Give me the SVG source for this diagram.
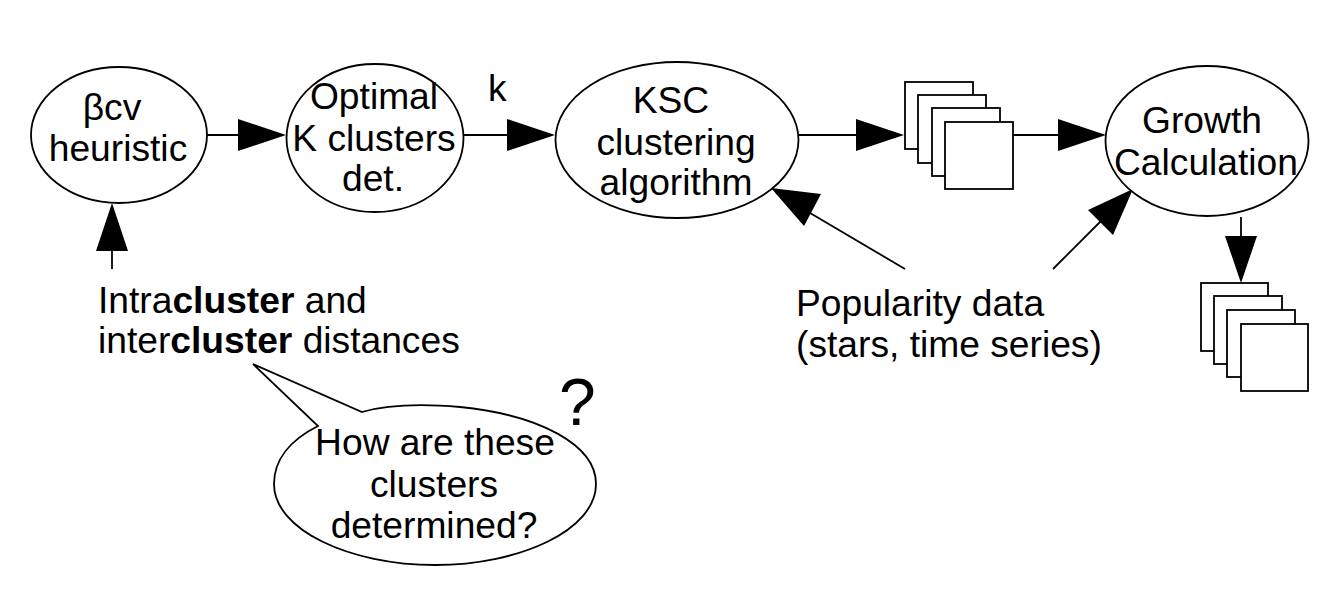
<svg xmlns="http://www.w3.org/2000/svg" width="1342" height="598" viewBox="0 0 1342 598">
<style>
.s{fill:#fff;stroke:#000;stroke-width:1.8}
.l{fill:none;stroke:#000;stroke-width:1.8}
.h{fill:#000;stroke:none}
text{font-family:"Liberation Sans",Arial,sans-serif;font-size:37.2px;fill:#000}
.m{text-anchor:middle}
</style>
<rect width="1342" height="598" fill="#fff"/>
<g id="connectors">
<path class="l" d="M207 135H240M464 135H510M799 135H858M1013 135H1060M112 269V245M1241 217V238M905 269L805 210M1053 269L1110 212"/>
<path class="h" d="M286 135L238 119V151Z"/>
<path class="h" d="M555 135L507 119V151Z"/>
<path class="h" d="M904 135L856 119V151Z"/>
<path class="h" d="M1106 135L1058 119V151Z"/>
<path class="h" d="M112 203L96 251H128Z"/>
<path class="h" d="M1241 283L1225 236H1257Z"/>
<path class="h" d="M771 188L821 194L804 226Z"/>
<path class="h" d="M1133 189L1113 235L1088 210Z"/>
</g>
<g id="beta"><ellipse class="s" cx="119" cy="135" rx="88" ry="68"/><text class="m" x="112" y="120">βcv</text><text class="m" x="118" y="161">heuristic</text></g>
<g id="optimal"><ellipse class="s" cx="375" cy="138" rx="88.500" ry="74"/><text class="m" x="374" y="109">Optimal</text><text class="m" x="374" y="151">K clusters</text><text class="m" x="373" y="191">det.</text></g>
<text x="488" y="101">k</text>
<g id="ksc"><ellipse class="s" cx="677" cy="140" rx="121.500" ry="78"/><text class="m" x="671" y="113">KSC</text><text class="m" x="676" y="155">clustering</text><text class="m" x="676" y="195">algorithm</text></g>
<g id="stack1"><rect class="s" x="905" y="82" width="68" height="67"/><rect class="s" x="918" y="95" width="68" height="68"/><rect class="s" x="932" y="108" width="68" height="68"/><rect class="s" x="945" y="122" width="68" height="67"/></g>
<g id="growth"><ellipse class="s" cx="1207" cy="141" rx="101.500" ry="75"/><text class="m" x="1202" y="133">Growth</text><text class="m" x="1206" y="175">Calculation</text></g>
<g id="stack2"><rect class="s" x="1201" y="283" width="67" height="68"/><rect class="s" x="1214" y="296" width="68" height="68"/><rect class="s" x="1227" y="310" width="68" height="67"/><rect class="s" x="1241" y="324" width="67" height="67"/></g>
<g id="distances"><text x="98" y="313">Intra<tspan font-weight="bold">cluster</tspan> and</text><text x="98" y="353">inter<tspan font-weight="bold">cluster</tspan> distances</text></g>
<g id="popularity"><text x="796" y="316">Popularity data</text><text x="796" y="357">(stars, time series)</text></g>
<g id="callout"><path class="s" d="M253 364L362 412C390 404 425 404 460 407C540 415 596 445 596 484C596 530 520 565 435 565C350 565 274 530 274 484C274 460 290 440 318 426Z"/><text class="m" x="435" y="455">How are these</text><text class="m" x="434" y="497">clusters</text><text class="m" x="434" y="538">determined?</text></g>
<text x="559" y="425" style="font-size:66px">?</text>
</svg>
